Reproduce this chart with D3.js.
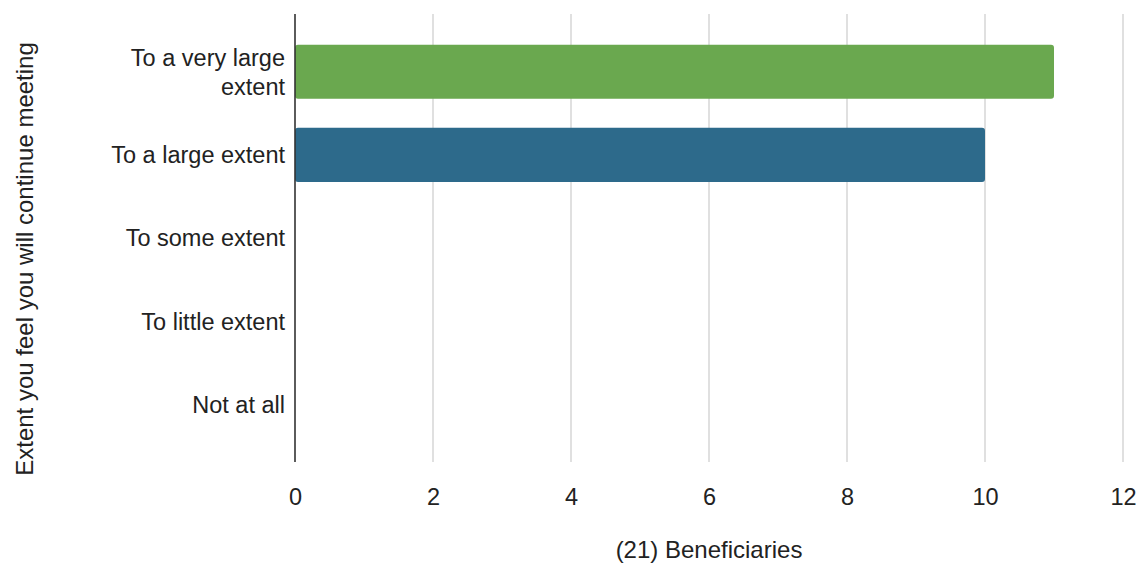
<!DOCTYPE html>
<html lang="en">
  <head>
    <meta charset="UTF-8">
    <title>Extent you feel you will continue meeting</title>
    <script src="https://d3js.org/d3.v7.min.js"></script>
    <style>
      body {
        margin: 0;
        padding: 0;
        background-color: #ffffff;
      }
      text {
        font-family: 'Liberation Sans', Arial, sans-serif;
        fill: #222;
      }
    </style>
  </head>
  <body>
    <svg id="bar" width="1136" height="565"></svg>

    <script>

    // chart data
    var categories = ["To a very large extent", "To a large extent", "To some extent", "To little extent", "Not at all"];
    var labelLines = [["To a very large", "extent"], ["To a large extent"], ["To some extent"], ["To little extent"], ["Not at all"]];
    var values = [11, 10, 0, 0, 0];
    var barColors = ["#6aa84f", "#2d6a8b", "#6aa84f", "#6aa84f", "#6aa84f"];
    var xTicks = [0, 2, 4, 6, 8, 10, 12];
    var xTitle = "(21) Beneficiaries";
    var yTitle = "Extent you feel you will continue meeting";

    var svg = d3.select("#bar"),
        plotLeft = 295,
        plotRight = 1123,
        plotTop = 14,
        plotBottom = 462;

    var xScale = d3.scaleLinear().domain([0, 12]).range([plotLeft, plotRight]);
    var yScale = d3.scaleBand()
                   .domain(categories)
                   .range([plotTop, plotBottom])
                   .paddingInner(0.35)
                   .paddingOuter(0.37);

    // gridlines
    svg.append("g")
      .selectAll("line")
      .data(xTicks.filter(function(d) { return d > 0; }))
      .enter().append("line")
      .attr("x1", function(d) { return xScale(d); })
      .attr("x2", function(d) { return xScale(d); })
      .attr("y1", plotTop)
      .attr("y2", plotBottom)
      .attr("stroke", "#cccccc")
      .attr("stroke-width", 1.2);

    // bars
    svg.append("g")
      .selectAll("rect")
      .data(values)
      .enter().append("rect")
      .attr("x", xScale(0))
      .attr("y", function(d, i) { return yScale(categories[i]); })
      .attr("width", function(d) { return xScale(d) - xScale(0); })
      .attr("height", yScale.bandwidth())
      .attr("rx", 3)
      .attr("fill", function(d, i) { return barColors[i]; });

    // zero axis line
    svg.append("line")
      .attr("x1", xScale(0))
      .attr("x2", xScale(0))
      .attr("y1", plotTop)
      .attr("y2", plotBottom)
      .attr("stroke", "#333")
      .attr("stroke-width", 1.6);

    // x tick labels
    var xAxis = d3.axisBottom(xScale).tickValues(xTicks).tickSize(0).tickPadding(26);
    var gx = svg.append("g")
      .attr("transform", "translate(0," + plotBottom + ")")
      .call(xAxis);
    gx.select(".domain").remove();
    gx.selectAll("text")
      .style("font-family", "'Liberation Sans', Arial, sans-serif")
      .style("font-size", "23.5px")
      .attr("fill", "#222");

    // y category labels
    var yLab = svg.append("g")
      .selectAll("text")
      .data(categories)
      .enter().append("text")
      .attr("text-anchor", "end")
      .style("font-size", "23.5px")
      .attr("transform", function(d) { return "translate(" + (plotLeft - 10) + "," + (yScale(d) + yScale.bandwidth() / 2) + ")"; });

    yLab.each(function(d, i) {
      var lines = labelLines[i];
      var t = d3.select(this);
      lines.forEach(function(s, j) {
        t.append("tspan")
          .attr("x", 0)
          .attr("y", (j - (lines.length - 1) / 2) * 29)
          .attr("dy", "0.36em")
          .text(s);
      });
    });

    // X title
    svg.append("text")
      .attr("x", 709)
      .attr("y", 558)
      .attr("text-anchor", "middle")
      .style("font-size", "24px")
      .text(xTitle);

    // Y title
    svg.append("text")
      .attr("text-anchor", "middle")
      .attr("transform", "translate(33,259)rotate(-90)")
      .style("font-size", "24px")
      .text(yTitle);

    </script>
  </body>
</html>
